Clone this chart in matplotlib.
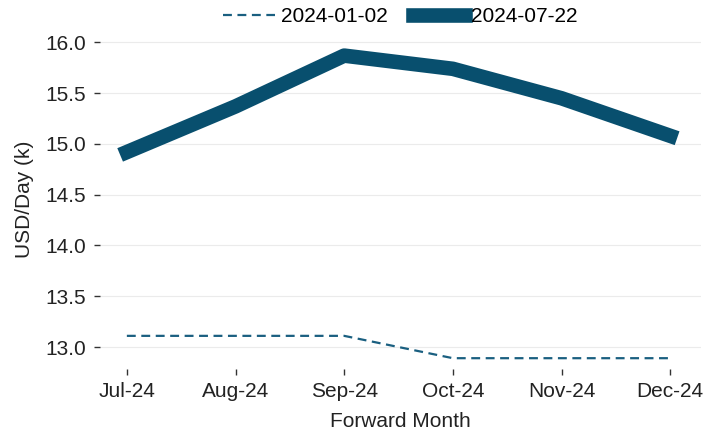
import matplotlib

matplotlib.use("Agg")
import matplotlib.pyplot as plt

months = ["Jul-24", "Aug-24", "Sep-24", "Oct-24", "Nov-24", "Dec-24"]
curve_jan = [13.11, 13.11, 13.11, 12.89, 12.89, 12.89]
curve_jul = [14.92, 15.37, 15.87, 15.74, 15.45, 15.08]
yticks = [13.0, 13.5, 14.0, 14.5, 15.0, 15.5, 16.0]

COLOR = "#084f6e"

plt.rcParams["font.family"] = ["Liberation Sans", "DejaVu Sans"]
plt.rcParams["font.size"] = 15

fig = plt.figure(figsize=(7.07, 4.32), dpi=100)
ax = fig.add_axes([0.141, 0.145, 0.85, 0.785])

x = list(range(len(months)))
ax.plot(x, curve_jan, color="#1a5f80", linewidth=1.6, linestyle=(0, (4, 2.5)), label="2024-01-02")
ax.plot(x, curve_jul, color=COLOR, linewidth=10.5, label="2024-07-22")

ax.set_xticks(x)
ax.set_xticklabels(months)
ax.set_yticks(yticks)
ax.set_yticklabels([f"{v:.1f}" for v in yticks])
ax.set_xlim(-0.25, 5.28)
ax.set_ylim(12.78, 16.12)

ax.grid(axis="y", color="#ebebeb", linewidth=0.8)
ax.set_axisbelow(True)
for spine in ax.spines.values():
    spine.set_visible(False)
ax.tick_params(axis="both", length=4, width=1, color="#333333", labelcolor="#222222",
               labelsize=15)
ax.tick_params(axis="y", pad=6)
ax.tick_params(axis="x", pad=5)

ax.set_xlabel("Forward Month", color="#222222", fontsize=15, labelpad=8)
ax.set_ylabel("USD/Day (k)", color="#222222", fontsize=15, labelpad=8)

ax.legend(loc="lower center", bbox_to_anchor=(0.5, 0.975), ncol=2, frameon=False,
          handlelength=2.5, columnspacing=1.2, handletextpad=0.3, fontsize=15,
          borderpad=0.1)

fig.savefig("out.png", dpi=100)
